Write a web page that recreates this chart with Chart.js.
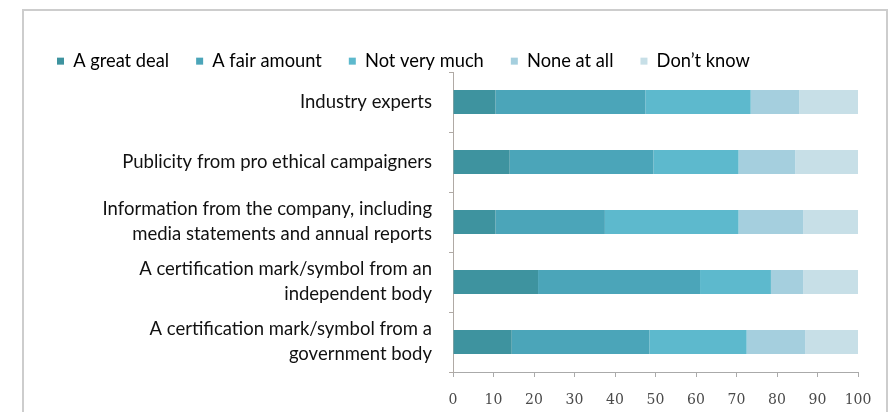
<!DOCTYPE html>
<html>
<head>
<meta charset="utf-8">
<script src="https://cdn.jsdelivr.net/npm/chart.js@4.4.1/dist/chart.umd.min.js"></script>
<style>
  html, body { margin: 0; padding: 0; background: #fff; }
  #wrap { width: 892px; height: 412px; position: relative; }
</style>
</head>
<body>
<div id="wrap"><canvas id="chart" width="892" height="412"></canvas></div>
<script>
// Categories (top to bottom)
const categories = [
    'Industry experts',
    'Publicity from pro ethical campaigners',
    ['Information from the company, including', 'media statements and annual reports'],
    ['A certification mark/symbol from an', 'independent body'],
    ['A certification mark/symbol from a', 'government body']
];

const seriesNames = ['A great deal', 'A fair amount', 'Not very much', 'None at all', 'Don\u2019t know'];

// Values per series, same order as categories
const greatDeal   = [10.5, 14.0, 10.5, 21.0, 14.5];
const fairAmount  = [37.0, 35.5, 27.0, 40.0, 34.0];
const notVeryMuch = [26.0, 21.0, 33.0, 17.5, 24.0];
const noneAtAll   = [12.0, 14.0, 16.0,  8.0, 14.5];
const dontKnow    = [14.5, 15.5, 13.5, 13.5, 13.0];

const xTicks = [0, 10, 20, 30, 40, 50, 60, 70, 80, 90, 100];

const colors = ['#3e939f', '#4ba5b9', '#5db9cd', '#a5cfde', '#c7dfe7'];

const seriesValues = [greatDeal, fairAmount, notVeryMuch, noneAtAll, dontKnow];

// Grey frame around the whole chart
const framePlugin = {
    id: 'frame',
    beforeDraw(chart) {
        const ctx = chart.ctx;
        ctx.save();
        ctx.strokeStyle = '#cdcdcd';
        ctx.lineWidth = 2;
        ctx.strokeRect(23, 10, 864, 430);
        ctx.restore();
    }
};

const ctx = document.getElementById('chart').getContext('2d');
const chart = new Chart(ctx, {
    type: 'bar',
    data: {
        labels: categories,
        datasets: seriesNames.map((name, i) => ({
            label: name,
            data: seriesValues[i],
            backgroundColor: colors[i],
            borderWidth: 0,
            barPercentage: 0.4,
            categoryPercentage: 1
        }))
    },
    options: {
        indexAxis: 'y',
        responsive: false,
        animation: false,
        layout: {
            padding: { left: 30, right: 34, top: 25, bottom: 0 }
        },
        plugins: {
            legend: {
                position: 'top',
                align: 'start',
                labels: {
                    boxWidth: 7,
                    boxHeight: 7,
                    padding: 27,
                    color: '#000',
                    font: { family: 'Lato', size: 18.3 }
                }
            },
            tooltip: { enabled: false }
        },
        scales: {
            x: {
                stacked: true,
                min: 0,
                max: 100,
                afterBuildTicks(scale) {
                    scale.ticks = xTicks.map(v => ({ value: v }));
                },
                afterFit(scale) { scale.height = 40; },
                grid: {
                    drawOnChartArea: false,
                    drawTicks: true,
                    tickLength: 5,
                    color: '#aaaaaa'
                },
                border: { display: true, color: '#aaaaaa' },
                ticks: {
                    padding: 15,
                    color: '#4a4a4a',
                    font: { family: 'DejaVu Serif', size: 14 }
                }
            },
            y: {
                stacked: true,
                afterFit(scale) { scale.width = 423; },
                grid: {
                    drawOnChartArea: false,
                    drawTicks: true,
                    tickLength: 4,
                    offset: true,
                    color: '#b0aaa5'
                },
                border: { display: true, color: '#b0aaa5' },
                ticks: {
                    padding: 17,
                    color: '#111',
                    font: { family: 'Lato', size: 18.5, lineHeight: 1.35 }
                }
            }
        }
    },
    plugins: [framePlugin]
});

// Fix the legend height so the plot area starts where the reference does
const origFit = chart.legend.fit;
chart.legend.fit = function () {
    origFit.call(this);
    this.height = 47;
};
chart.update();
</script>
</body>
</html>
